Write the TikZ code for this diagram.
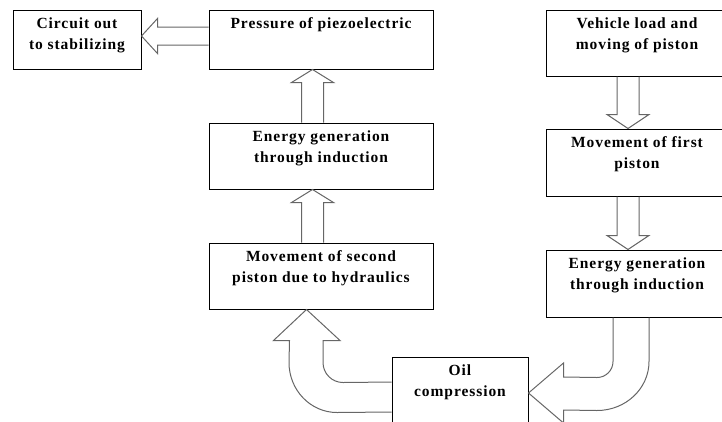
\documentclass[tikz,border=0pt]{standalone}
\usepackage{fontspec}
\setmainfont{Liberation Serif}
\newfontfamily\boxfont[LetterSpace=6]{Liberation Serif}
\usetikzlibrary{calc}
\tikzset{
    % Boxes with sharp corners, text at the top
    block/.style={
        rectangle,
        draw=black,
        line width=1pt,
        minimum width=224pt,
        minimum height=66pt,
        inner sep=0pt
    },
    block text/.style={
        label={[anchor=north, inner sep=8pt, align=center,
            font=\boxfont\bfseries\fontsize{15.5}{21}\selectfont]north:#1}
    },
    hollow/.style={
        draw=black!60,
        line width=1pt,
        line join=miter
    }
}
% straight block arrow: tail, tip, signed head length
\newcommand{\vblock}[3]{%
    \draw[hollow] ($(#1)+(-11,0)$) -- ($(#2)+(-11,#3)$) -- ++(-10,0)
        -- (#2) -- ++(21,#3) -- ++(-10,0) -- ($(#1)+(11,0)$);
}
\begin{document}
\begin{tikzpicture}[x=1pt, y=-1pt]
    \useasboundingbox (0,0) rectangle (722,421);
    \clip (0,0) rectangle (722,421);

    % Left column
    \node[block, minimum width=128pt, minimum height=59pt,
        block text={Circuit out\\to stabilizing}] (circ) at (77,39.5) {};
    \node[block, minimum height=59pt,
        block text={Pressure of piezoelectric}] (press) at (321,39.5) {};
    \node[block, block text={Energy generation\\through induction}] (genl) at (321,156) {};
    \node[block, block text={Movement of second\\piston due to hydraulics}] (move2) at (321,276) {};

    % Right column
    \node[block, minimum width=182pt,
        block text={Vehicle load and\\moving of piston}] (vload) at (637,43) {};
    \node[block, minimum width=182pt, minimum height=67pt,
        block text={Movement of first\\piston}] (move1) at (637,162.5) {};
    \node[block, minimum width=182pt, minimum height=67pt,
        block text={Energy generation\\through induction}] (genr) at (637,283.5) {};

    % Bottom
    \node[block, minimum width=136pt, minimum height=83pt,
        block text={Oil\\compression}] (oil) at (460,398.5) {};

    % Straight arrows
    \coordinate (a1) at ([yshift=3.5pt]circ.east);
    \draw[hollow] ($(press.west)+(0,-12.5)$) -- ($(a1)+(16,-9)$) -- ++(0,-8.5)
        -- (a1) -- ++(16,17.5) -- ++(0,-8.5) -- ($(press.west)+(0,5.5)$);

    \coordinate (a2) at ([xshift=-8.5pt]press.south);
    \coordinate (b2) at (a2 |- genl.north);
    \vblock{b2}{a2}{13}

    \coordinate (a3) at ([xshift=-8.5pt]genl.south);
    \coordinate (b3) at (a3 |- move2.north);
    \vblock{b3}{a3}{13}

    \coordinate (a4) at ([xshift=-9pt]move1.north);
    \coordinate (b4) at (a4 |- vload.south);
    \vblock{b4}{a4}{-14}

    \coordinate (a5) at ([xshift=-9pt]genr.north);
    \coordinate (b5) at (a5 |- move1.south);
    \vblock{b5}{a5}{-14}

    % Bent arrows
    \coordinate (c6) at ([yshift=5.5pt]oil.east);
    \draw[hollow] ($(genr.south)+(-24,0)$) -- ($(genr.south)+(-24,44)$)
        arc[start angle=0, end angle=90, radius=16]
        -- ($(c6)+(35,-16)$) -- ++(0,-14) -- (c6) -- ++(35,30) -- ++(0,-13)
        -- ($(genr.south)+(-40,93)$)
        arc[start angle=90, end angle=0, x radius=52, y radius=49]
        -- ($(genr.south)+(12,0)$);

    \coordinate (c7) at ([xshift=-14.5pt]move2.south);
    \draw[hollow] ($(oil.west)+(0,-16.5)$) -- ($(c7)+(36.5,73)$)
        arc[start angle=90, end angle=180, radius=20]
        -- ($(c7)+(16.5,31)$) -- ++(17,0) -- (c7) -- ++(-33,31) -- ++(16,0)
        -- ($(c7)+(-17.5,53)$)
        arc[start angle=180, end angle=90, x radius=48, y radius=50]
        -- ($(oil.west)+(0,13.5)$);
\end{tikzpicture}
\end{document}
